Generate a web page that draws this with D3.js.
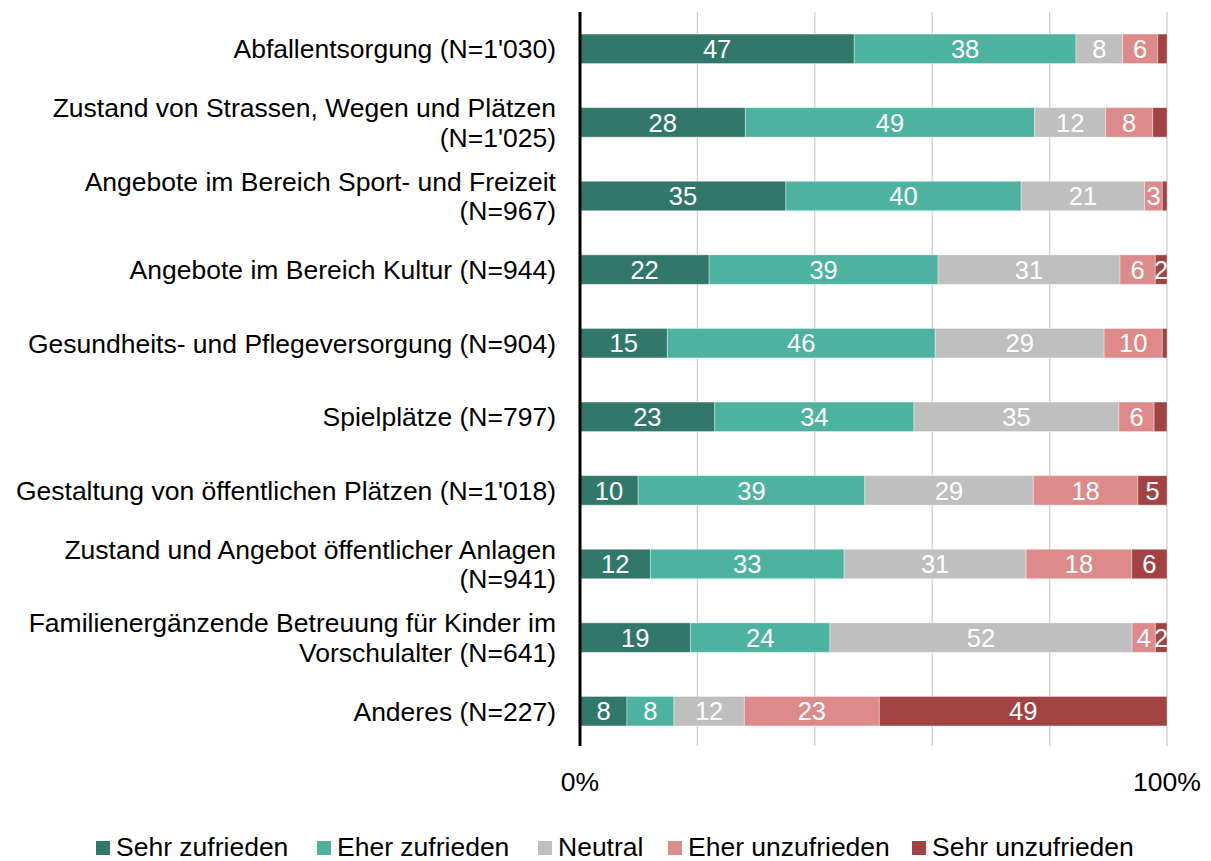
<!DOCTYPE html>
<html>
<head>
<meta charset="utf-8">
<script src="https://cdn.jsdelivr.net/npm/d3@7"></script>
<style>
  body { margin: 0; background: #fff; }
  text { font-family: "Liberation Sans", Arial, sans-serif; }
</style>
</head>
<body>
<svg id="chart" width="1211" height="861"></svg>
<script>
// categories (line breaks as in the original)
var categories = [
  "Abfallentsorgung (N=1'030)",
  "Zustand von Strassen, Wegen und Plätzen\n(N=1'025)",
  "Angebote im Bereich Sport- und Freizeit\n(N=967)",
  "Angebote im Bereich Kultur (N=944)",
  "Gesundheits- und Pflegeversorgung (N=904)",
  "Spielplätze (N=797)",
  "Gestaltung von öffentlichen Plätzen (N=1'018)",
  "Zustand und Angebot öffentlicher Anlagen\n(N=941)",
  "Familienergänzende Betreuung für Kinder im\nVorschulalter (N=641)",
  "Anderes (N=227)"
];

var seriesNames = ["Sehr zufrieden", "Eher zufrieden", "Neutral", "Eher unzufrieden", "Sehr unzufrieden"];

// percentages per series, one value per category
var sehrZufrieden   = [47, 28, 35, 22, 15, 23, 10, 12, 19, 8];
var eherZufrieden   = [38, 49, 40, 39, 46, 34, 39, 33, 24, 8];
var neutral         = [8, 12, 21, 31, 29, 35, 29, 31, 52, 12];
var eherUnzufrieden = [6, 8, 3, 6, 10, 6, 18, 18, 4, 23];
var sehrUnzufrieden = [1.6, 2.4, 0.8, 2, 0.8, 2.2, 5, 6, 2, 49];

// segments without a data label in the original: [category index, series index]
var unlabeled = [[0, 4], [1, 4], [2, 4], [4, 4], [5, 4]];

var xTickLabels = ["0%", "100%"];

var colors = ["#32786a", "#4db3a0", "#bfbfbf", "#de8a8a", "#a34242"];

var svg = d3.select("#chart");
var plotTop = 12, plotBottom = 746;
var fs = 26.5;

var rows = categories.map(function (c, i) {
  return {
    cat: c, idx: i,
    s0: sehrZufrieden[i], s1: eherZufrieden[i], s2: neutral[i],
    s3: eherUnzufrieden[i], s4: sehrUnzufrieden[i]
  };
});
var keys = ["s0", "s1", "s2", "s3", "s4"];

var stacked = d3.stack().keys(keys).offset(d3.stackOffsetExpand)(rows);

var x = d3.scaleLinear().domain([0, 1]).range([580, 1167]);
var y = d3.scaleBand().domain(d3.range(categories.length))
  .range([12, 748]).paddingInner(0.6).paddingOuter(0.3);

// gridlines
svg.append("g")
  .selectAll("line")
  .data([0.2, 0.4, 0.6, 0.8, 1])
  .enter().append("line")
  .attr("x1", function (d) { return x(d); })
  .attr("x2", function (d) { return x(d); })
  .attr("y1", plotTop)
  .attr("y2", plotBottom)
  .attr("stroke", "#d0d0d0")
  .attr("stroke-width", 1.3);

// bars
var layer = svg.append("g").selectAll("g")
  .data(stacked)
  .enter().append("g")
  .attr("fill", function (d, i) { return colors[i]; });

layer.selectAll("rect")
  .data(function (d) { return d; })
  .enter().append("rect")
  .attr("x", function (d) { return x(d[0]); })
  .attr("width", function (d) { return x(d[1]) - x(d[0]); })
  .attr("y", function (d) { return y(d.data.idx); })
  .attr("height", y.bandwidth())
  .attr("stroke", "rgba(255,255,255,0.35)")
  .attr("stroke-width", 1);

// value labels
function isUnlabeled(r, s) {
  return unlabeled.some(function (u) { return u[0] === r && u[1] === s; });
}
stacked.forEach(function (ser, si) {
  svg.append("g").selectAll("text")
    .data(ser.filter(function (d) { return !isUnlabeled(d.data.idx, si); }))
    .enter().append("text")
    .attr("x", function (d) { return (x(d[0]) + x(d[1])) / 2; })
    .attr("y", function (d) { return y(d.data.idx) + y.bandwidth() / 2; })
    .attr("dy", "0.36em")
    .attr("text-anchor", "middle")
    .attr("fill", "#fff")
    .attr("font-size", 25.5)
    .text(function (d) { return Math.round(d.data[ser.key]); });
});

// category labels
var catG = svg.append("g");
categories.forEach(function (c, i) {
  var lines = c.split("\n");
  var cy = y(i) + y.bandwidth() / 2;
  var lh = 29.5;
  var t = catG.append("text")
    .attr("text-anchor", "end")
    .attr("font-size", fs)
    .attr("fill", "#000");
  lines.forEach(function (ln, k) {
    t.append("tspan")
      .attr("x", 556)
      .attr("y", cy + (k - (lines.length - 1) / 2) * lh)
      .attr("dy", "0.36em")
      .text(ln);
  });
});

// axis line
svg.append("line")
  .attr("x1", x(0)).attr("x2", x(0))
  .attr("y1", plotTop).attr("y2", plotBottom)
  .attr("stroke", "#000").attr("stroke-width", 3);

// x tick labels
svg.append("g").selectAll("text")
  .data(xTickLabels)
  .enter().append("text")
  .attr("x", function (d, i) { return x(i); })
  .attr("y", 781)
  .attr("dy", "0.36em")
  .attr("text-anchor", "middle")
  .attr("font-size", fs)
  .text(function (d) { return d; });

// legend
var legendX = [96, 317, 538, 668, 912];
var leg = svg.append("g").selectAll("g")
  .data(seriesNames)
  .enter().append("g")
  .attr("transform", function (d, i) { return "translate(" + legendX[i] + ",848)"; });
leg.append("rect")
  .attr("x", 0).attr("y", -7)
  .attr("width", 14).attr("height", 14)
  .attr("fill", function (d, i) { return colors[i]; });
leg.append("text")
  .attr("x", 20)
  .attr("y", -1.5)
  .attr("dy", "0.36em")
  .attr("font-size", fs)
  .text(function (d) { return d; });
</script>
</body>
</html>
